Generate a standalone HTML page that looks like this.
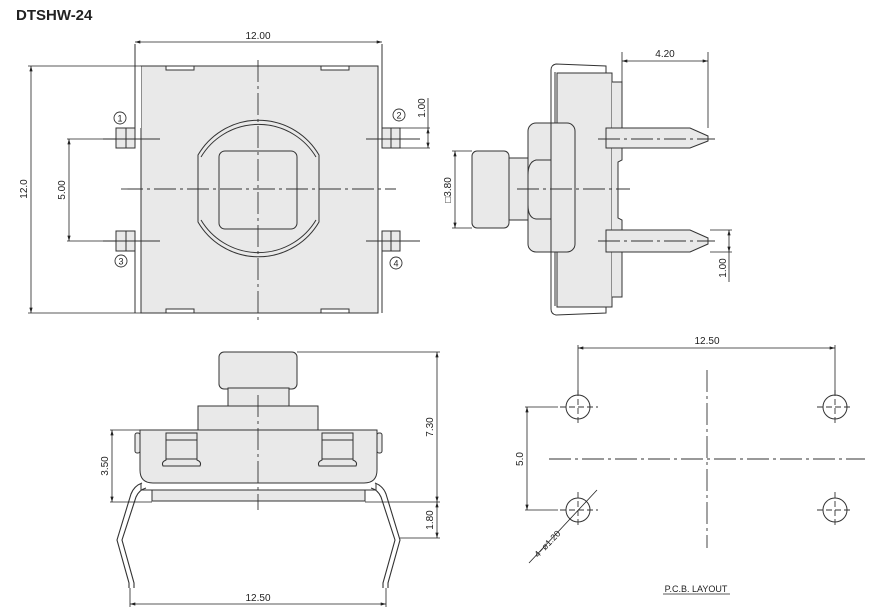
<!DOCTYPE html>
<html><head><meta charset="utf-8"><style>
html,body{margin:0;padding:0;background:#fff;}
svg{display:block;font-family:"Liberation Sans",sans-serif;}
</style></head><body>
<svg width="884" height="612" viewBox="0 0 884 612" xmlns="http://www.w3.org/2000/svg">
<defs>
<marker id="a" viewBox="0 0 10 6" refX="10" refY="3" markerWidth="8" markerHeight="4" orient="auto-start-reverse"><path d="M0,0 L10,3 L0,6z" fill="#222"/></marker>
</defs>
<text x="16" y="20" font-size="15" font-weight="bold" fill="#222">DTSHW-24</text>

<g stroke="#333" stroke-width="1" fill="#e9e9e9">
<!-- TOP VIEW -->
<rect x="141" y="66" width="237" height="247"/>
<rect x="166" y="66" width="28" height="4" fill="#fff"/><rect x="321" y="66" width="28" height="4" fill="#fff"/>
<rect x="166" y="309" width="28" height="4" fill="#fff"/><rect x="321" y="309" width="28" height="4" fill="#fff"/>
<rect x="116" y="128" width="19" height="20"/><line x1="126" y1="128" x2="126" y2="148"/>
<rect x="116" y="231" width="19" height="20"/><line x1="126" y1="231" x2="126" y2="251"/>
<rect x="382" y="128" width="18" height="20"/><line x1="391" y1="128" x2="391" y2="148"/>
<rect x="382" y="231" width="18" height="20"/><line x1="391" y1="231" x2="391" y2="251"/>
<rect x="135" y="66" width="6" height="62" fill="#fff" stroke="none"/>
<line x1="135" y1="44" x2="135" y2="128"/><line x1="382" y1="44" x2="382" y2="128"/>
<line x1="135" y1="251" x2="135" y2="313"/><line x1="382" y1="251" x2="382" y2="313"/>
<path d="M198,155 A70,70 0 0 1 319,155 L319,222 A70,70 0 0 1 198,222 Z"/>
<path d="M201,157 A67,67 0 0 1 316,157 M201,220 A67,67 0 0 0 316,220" fill="none"/>
<rect x="219" y="151" width="78" height="78" rx="6"/>

<!-- SIDE VIEW -->
<path d="M551,70 L551,309 M555,72 L555,306" fill="none"/>
<path d="M551,70 Q551,65 556,64 L606,66 L606,73 M551,309 Q551,314 556,315 L606,313 L606,307" fill="none"/>
<rect x="557" y="73" width="55" height="234"/>
<path d="M612,82 L622,82 L622,160 L618,162 L618,218 L622,220 L622,297 L612,297"/>
<rect x="528" y="123" width="47" height="129" rx="8"/>
<line x1="551" y1="123" x2="551" y2="252"/>
<path d="M551,160 L536,160 Q528,162 528,175 L528,205 Q528,218 536,219 L551,219" fill="none"/>
<rect x="509" y="158" width="19" height="62"/>
<rect x="472" y="151" width="37" height="77" rx="5"/>
<path d="M606,128 L690,128 L708,136 L708,141 L690,148 L606,148 Z"/>
<path d="M606,230 L690,230 L708,238 L708,244 L690,252 L606,252 Z"/>

<!-- FRONT VIEW -->
<path d="M142,483 Q134,486 131,494 L117,540 L129,583 L129,588 M146,488 Q139,490 136,497 L122,540 L134,583 L134,588" fill="none" stroke-width="1.1"/>
<path d="M375,483 Q383,486 386,494 L400,540 L388,583 L388,588 M371,488 Q378,490 381,497 L395,540 L383,583 L383,588" fill="none" stroke-width="1.1"/>
<rect x="219" y="352" width="78" height="37" rx="5"/>
<rect x="228" y="388" width="61" height="19"/>
<rect x="198" y="406" width="120" height="24"/>
<rect x="152" y="490" width="213" height="11"/>
<path d="M140,430 L377,430 L377,470 Q377,483 364,483 L153,483 Q140,483 140,470 Z"/>
<path d="M141,483 L141,490 L376,490 L376,483" fill="none"/>
<rect x="135" y="433" width="5" height="20" rx="2"/>
<rect x="377" y="433" width="5" height="20" rx="2"/>
<path d="M166,433 L166,460 Q161,462 163,466 L200,466 Q202,462 197,460 L197,433 Z"/><line x1="166" y1="440" x2="197" y2="440"/><line x1="166" y1="459" x2="197" y2="459"/>
<path d="M322,433 L322,460 Q317,462 319,466 L356,466 Q358,462 353,460 L353,433 Z"/><line x1="322" y1="440" x2="353" y2="440"/><line x1="322" y1="459" x2="353" y2="459"/>

<!-- PCB -->
<circle cx="578" cy="407" r="12" fill="none"/><circle cx="835" cy="407" r="12" fill="none"/>
<circle cx="578" cy="510" r="12" fill="none"/><circle cx="835" cy="510" r="12" fill="none"/>
</g>

<!-- center lines -->
<g stroke="#333" stroke-width="0.9" fill="none" stroke-dasharray="22,4,3,4">
<line x1="258" y1="60" x2="258" y2="322"/>
<line x1="121" y1="189" x2="396" y2="189"/>
<line x1="103" y1="139" x2="160" y2="139" stroke-dasharray="none"/><line x1="103" y1="241" x2="160" y2="241" stroke-dasharray="none"/>
<line x1="366" y1="139" x2="420" y2="139" stroke-dasharray="none"/><line x1="366" y1="241" x2="420" y2="241" stroke-dasharray="none"/>
<line x1="517" y1="189" x2="630" y2="189"/>
<line x1="598" y1="139" x2="715" y2="139"/><line x1="598" y1="241" x2="715" y2="241"/>
<line x1="258" y1="395" x2="258" y2="510"/>
<line x1="549" y1="459" x2="865" y2="459"/>
<line x1="707" y1="370" x2="707" y2="548"/>
</g>
<g stroke="#333" stroke-width="0.9" stroke-dasharray="6,3">
<line x1="560" y1="407" x2="598" y2="407"/><line x1="578" y1="390" x2="578" y2="425"/>
<line x1="817" y1="407" x2="853" y2="407"/><line x1="835" y1="390" x2="835" y2="425"/>
<line x1="560" y1="510" x2="598" y2="510"/><line x1="578" y1="492" x2="578" y2="528"/>
<line x1="817" y1="510" x2="853" y2="510"/><line x1="835" y1="492" x2="835" y2="528"/>
</g>

<!-- dimension lines -->
<g stroke="#222" stroke-width="0.8" fill="none">
<line x1="135" y1="42" x2="382" y2="42" marker-start="url(#a)" marker-end="url(#a)"/>
<line x1="28" y1="66" x2="141" y2="66"/><line x1="28" y1="313" x2="141" y2="313"/>
<line x1="31" y1="66" x2="31" y2="313" marker-start="url(#a)" marker-end="url(#a)"/>
<line x1="67" y1="139" x2="116" y2="139"/><line x1="67" y1="241" x2="116" y2="241"/>
<line x1="69" y1="139" x2="69" y2="241" marker-start="url(#a)" marker-end="url(#a)"/>
<line x1="400" y1="128" x2="430" y2="128"/><line x1="400" y1="148" x2="430" y2="148"/>
<line x1="428" y1="98" x2="428" y2="128"/><line x1="428" y1="128" x2="428" y2="148" marker-start="url(#a)" marker-end="url(#a)"/>
<line x1="622" y1="52" x2="622" y2="82"/><line x1="708" y1="52" x2="708" y2="128"/>
<line x1="622" y1="61" x2="708" y2="61" marker-start="url(#a)" marker-end="url(#a)"/>
<line x1="452" y1="151" x2="472" y2="151"/><line x1="452" y1="228" x2="472" y2="228"/>
<line x1="455" y1="151" x2="455" y2="228" marker-start="url(#a)" marker-end="url(#a)"/>
<line x1="710" y1="230" x2="732" y2="230"/><line x1="710" y1="252" x2="732" y2="252"/>
<line x1="729" y1="230" x2="729" y2="252" marker-start="url(#a)" marker-end="url(#a)"/><line x1="729" y1="252" x2="729" y2="282"/>
<line x1="297" y1="352" x2="440" y2="352"/>
<line x1="437" y1="352" x2="437" y2="502" marker-start="url(#a)" marker-end="url(#a)"/>
<line x1="365" y1="502" x2="440" y2="502"/><line x1="110" y1="502" x2="152" y2="502"/>
<line x1="437" y1="502" x2="437" y2="538" marker-start="url(#a)" marker-end="url(#a)"/>
<line x1="400" y1="538" x2="440" y2="538"/>
<line x1="110" y1="430" x2="140" y2="430"/>
<line x1="112" y1="430" x2="112" y2="502" marker-start="url(#a)" marker-end="url(#a)"/>
<line x1="130" y1="588" x2="130" y2="607"/><line x1="386" y1="588" x2="386" y2="607"/>
<line x1="130" y1="604" x2="386" y2="604" marker-start="url(#a)" marker-end="url(#a)"/>
<line x1="578" y1="345" x2="578" y2="394"/><line x1="835" y1="345" x2="835" y2="394"/>
<line x1="578" y1="348" x2="835" y2="348" marker-start="url(#a)" marker-end="url(#a)"/>
<line x1="525" y1="407" x2="558" y2="407"/><line x1="525" y1="510" x2="558" y2="510"/>
<line x1="527" y1="407" x2="527" y2="510" marker-start="url(#a)" marker-end="url(#a)"/>
<line x1="597" y1="490" x2="529" y2="563"/>
<line x1="663" y1="594" x2="730" y2="594"/>
</g>
<g stroke="#333" stroke-width="0.9" fill="#fff">
<circle cx="120" cy="118" r="6"/><circle cx="121" cy="261" r="6"/>
<circle cx="399" cy="115" r="6"/><circle cx="396" cy="263" r="6"/>
</g>
<g font-size="10" fill="#222">
<text x="120" y="121.5" text-anchor="middle" font-size="9">1</text>
<text x="121" y="264.5" text-anchor="middle" font-size="9">3</text>
<text x="399" y="118.5" text-anchor="middle" font-size="9">2</text>
<text x="396" y="266.5" text-anchor="middle" font-size="9">4</text>
<text x="258" y="39" text-anchor="middle">12.00</text>
<text transform="translate(27,189) rotate(-90)" text-anchor="middle">12.0</text>
<text transform="translate(65,190) rotate(-90)" text-anchor="middle">5.00</text>
<text transform="translate(425,108) rotate(-90)" text-anchor="middle">1.00</text>
<text x="665" y="57" text-anchor="middle">4.20</text>
<text transform="translate(451,190) rotate(-90)" text-anchor="middle">□3.80</text>
<text transform="translate(726,268) rotate(-90)" text-anchor="middle">1.00</text>
<text transform="translate(433,427) rotate(-90)" text-anchor="middle">7.30</text>
<text transform="translate(433,520) rotate(-90)" text-anchor="middle">1.80</text>
<text transform="translate(108,466) rotate(-90)" text-anchor="middle">3.50</text>
<text x="258" y="601" text-anchor="middle">12.50</text>
<text x="707" y="344" text-anchor="middle">12.50</text>
<text transform="translate(523,459) rotate(-90)" text-anchor="middle">5.0</text>
<text transform="translate(538,558) rotate(-46)" font-size="9">4−ø1.20</text>
<text x="696" y="592" text-anchor="middle" font-size="9">P.C.B.  LAYOUT</text>
</g>
</svg>
</body></html>
